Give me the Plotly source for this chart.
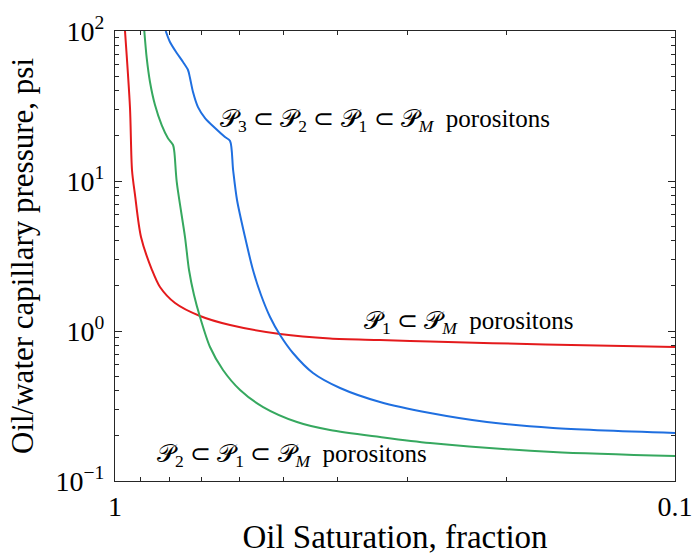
import math
import plotly.graph_objects as go

# Data (oil saturation fraction vs oil/water capillary pressure, psi)
red_s = [0.9597, 0.9402, 0.9325, 0.9210, 0.8986, 0.8588, 0.8311, 0.7812, 0.7050, 0.6231,
         0.5073, 0.4131, 0.3363, 0.2738, 0.1706, 0.1]
red_p = [100, 30.67, 11.84, 8.07, 4.23, 2.55, 1.965, 1.537, 1.259, 1.096,
         0.955, 0.891, 0.871, 0.851, 0.813, 0.782]

green_s = [0.8865, 0.8778, 0.8660, 0.8483, 0.8253, 0.8043, 0.7877, 0.7835, 0.7758,
           0.7499, 0.7376, 0.7226, 0.7050, 0.6766, 0.6414, 0.5979, 0.5438, 0.4732, 0.4131,
           0.3363, 0.2738, 0.1651, 0.1]
green_p = [100, 66.1, 45.7, 32.1, 23.6, 19.3, 17.38, 15.61, 9.85,
           4.23, 2.55, 1.738, 1.240, 0.782, 0.5495, 0.4043, 0.3113, 0.2474, 0.2188,
           0.1965, 0.1792, 0.1561, 0.1468]

blue_s = [0.8118, 0.7978, 0.7758, 0.7560, 0.7407, 0.7346, 0.7256, 0.7109, 0.6906, 0.6628, 0.6362,
          0.6231, 0.6153, 0.6055, 0.5859, 0.5670, 0.5486, 0.5286, 0.5073,
          0.4811, 0.4430, 0.3964, 0.3363, 0.2738, 0.2167, 0.1651, 0.1]
blue_p = [100, 84.5, 71.4, 62.1, 54.95, 48.6, 39.2, 31.1, 26.3, 22.56, 19.65,
          18.48, 11.84, 7.47, 4.23, 2.55, 1.738, 1.240, 0.9405,
          0.7135, 0.5248, 0.4169, 0.3362, 0.284, 0.2474, 0.2256, 0.2089]

x_ticks = [1, 0.1]
x_ticktext = ["1", "0.1"]
x_minor = [0.9, 0.8, 0.7, 0.6, 0.5, 0.4, 0.3, 0.2]
y_ticks = [0.1, 1, 10, 100]
y_ticktext = ["10<sup>−1</sup>", "10<sup>0</sup>", "10<sup>1</sup>", "10<sup>2</sup>"]
y_minor = [m * d for d in (0.1, 1, 10) for m in range(2, 10)]

FONT = "Liberation Serif"
AX = "#262626"

fig = go.Figure()
for s, p, c in [(red_s, red_p, "#E41A1C"), (green_s, green_p, "#36A85F"), (blue_s, blue_p, "#1F6FE0")]:
    fig.add_trace(go.Scatter(x=s, y=p, mode="lines",
                             line=dict(color=c, width=2, shape="spline", smoothing=0.8),
                             showlegend=False, hoverinfo="skip"))

P = "𝒫"
annots = [
    (0.655, 25.5, f"{P}<sub>3</sub> ⊂ {P}<sub>2</sub> ⊂ {P}<sub>1</sub> ⊂ {P}<sub><i>M</i></sub>  porositons"),
    (0.362, 1.148, f"{P}<sub>1</sub> ⊂ {P}<sub><i>M</i></sub>  porositons"),
    (0.848, 0.149, f"{P}<sub>2</sub> ⊂ {P}<sub>1</sub> ⊂ {P}<sub><i>M</i></sub>  porositons"),
]
for ax, ay, t in annots:
    fig.add_annotation(x=math.log10(ax), y=math.log10(ay), text=t, showarrow=False,
                       xanchor="left", yanchor="middle",
                       font=dict(family=FONT, size=25, color="black"))

axis_common = dict(type="log", showgrid=False, zeroline=False, showline=True, automargin=False,
                   linecolor=AX, linewidth=1, mirror="ticks", ticklabeloverflow="allow",
                   ticks="inside", ticklen=7, tickcolor=AX, tickwidth=1,
                   tickfont=dict(family=FONT, size=28, color="black"))

fig.update_layout(
    template="none",
    width=692, height=555,
    margin=dict(l=115, r=17, t=31, b=74),
    plot_bgcolor="white", paper_bgcolor="white",
    xaxis=dict(**axis_common, range=[0, -1], tickmode="array", tickvals=x_ticks, ticktext=x_ticktext,
               minor=dict(tickmode="array", tickvals=x_minor, ticks="inside", ticklen=4, tickcolor=AX),
               title=dict(text="Oil Saturation, fraction", font=dict(family=FONT, size=33, color="black"), standoff=16)),
    yaxis=dict(**axis_common, range=[-1, 2], tickmode="array", tickvals=y_ticks, ticktext=y_ticktext,
               ticklabelstandoff=4,
               minor=dict(tickmode="array", tickvals=y_minor, ticks="inside", ticklen=4, tickcolor=AX),
               title=dict(text="Oil/water capillary pressure, psi", font=dict(family=FONT, size=31, color="black"), standoff=12)),
)

fig.write_html("out.html")
